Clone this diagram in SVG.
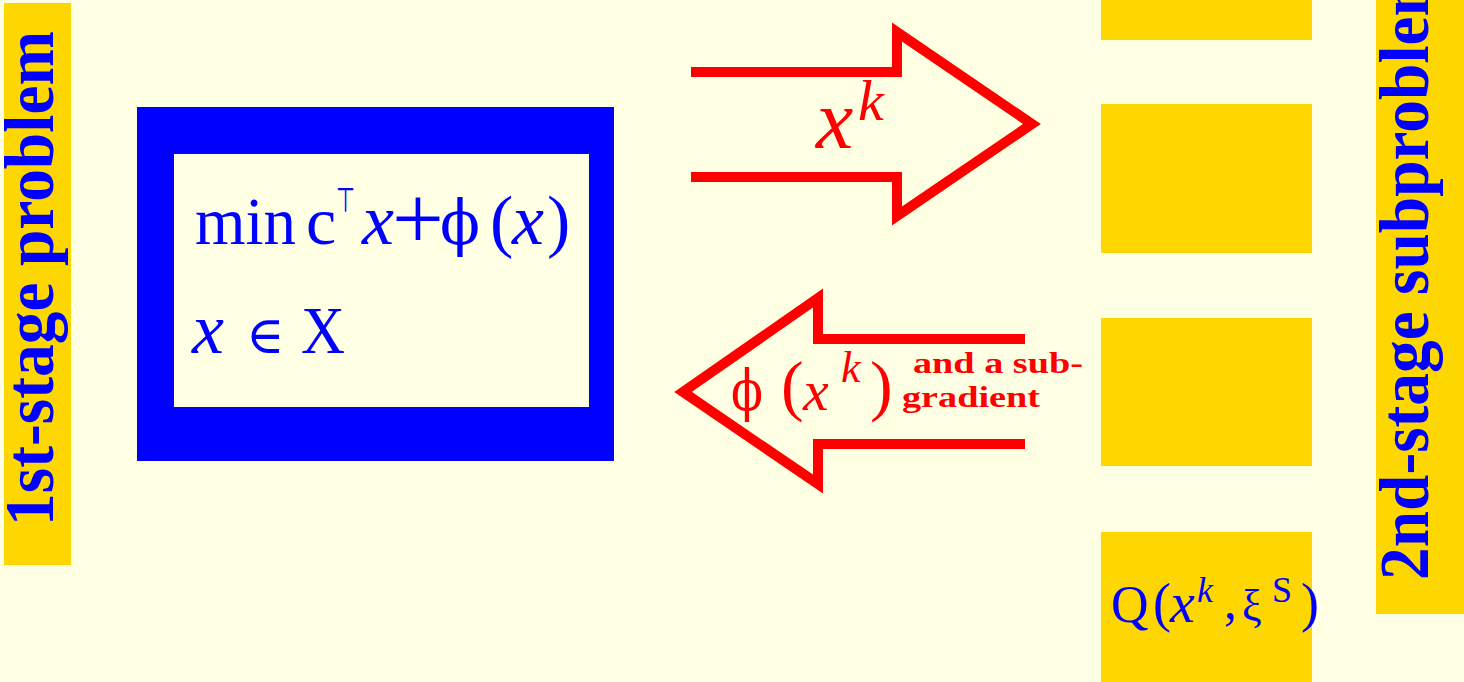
<svg xmlns="http://www.w3.org/2000/svg" width="1464" height="682" viewBox="0 0 1464 682">
<style>
.lbl{font-family:"Liberation Serif","Times New Roman",serif;font-weight:bold;fill:#0000FF}
.m{font-family:"Liberation Serif","DejaVu Serif",serif;fill:#0000FF}
.mi{font-family:"Liberation Serif","DejaVu Serif",serif;font-style:italic;fill:#0000FF}
.phi{font-family:"DejaVu Serif","Liberation Serif",serif;fill:#0000FF}
.r{fill:#FF0000}
.gold{fill:#FFD700}
.arrow{fill:none;stroke:#FF0000;stroke-width:10;stroke-linejoin:miter;stroke-miterlimit:10}
.note{font-family:"Liberation Serif","Times New Roman",serif;font-weight:bold;fill:#FF0000}
</style>
<rect x="0" y="0" width="1464" height="682" fill="#FFFFE4"/>

<g id="first-stage-label">
<rect class="gold" x="4" y="3" width="67" height="562"/>
<text class="lbl" font-size="70" transform="translate(53,526) rotate(-90)" textLength="495" lengthAdjust="spacingAndGlyphs">1st-stage problem</text>
</g>

<g id="first-stage-problem">
<rect x="137" y="107" width="477" height="354" fill="#0000FF"/>
<rect x="174" y="154" width="415" height="253" fill="#FFFFE4"/>
<text class="m" font-size="68" x="195" y="244" textLength="101" lengthAdjust="spacingAndGlyphs">min</text>
<text class="m" font-size="68" x="306" y="244">c</text>
<text font-family="DejaVu Sans, sans-serif" font-size="34" fill="#0000FF" x="336" y="212" textLength="19" lengthAdjust="spacingAndGlyphs">⊤</text>
<text class="mi" font-size="72" x="362" y="244">x</text>
<text class="m" font-size="92" x="392" y="249">+</text>
<text class="phi" font-size="62" x="440" y="244" textLength="40" lengthAdjust="spacingAndGlyphs">ϕ</text>
<text class="m" font-size="70" x="490" y="244">(</text>
<text class="mi" font-size="72" x="512" y="244">x</text>
<text class="m" font-size="70" x="547" y="244">)</text>
<text class="mi" font-size="72" x="192" y="353">x</text>
<text font-family="DejaVu Serif, serif" font-size="52" fill="#0000FF" x="246" y="353">∈</text>
<text class="m" font-size="68" x="301" y="353" textLength="44" lengthAdjust="spacingAndGlyphs">X</text>
</g>

<g id="second-stage-scenarios">
<rect class="gold" x="1101" y="0" width="211" height="40"/>
<rect class="gold" x="1101" y="104" width="211" height="149"/>
<rect class="gold" x="1101" y="318" width="211" height="148"/>
<rect class="gold" x="1101" y="532" width="211" height="150"/>
<text class="m" font-size="52" x="1111" y="622">Q</text>
<text class="m" font-size="54" x="1153" y="621">(</text>
<text class="mi" font-size="56" x="1170" y="622">x</text>
<text class="mi" font-size="36" x="1197" y="602">k</text>
<text class="m" font-size="52" x="1224" y="618">,</text>
<text class="m" font-size="44" x="1242" y="620">ξ</text>
<text class="m" font-size="36" x="1272" y="602">S</text>
<text class="m" font-size="54" x="1301" y="621">)</text>
</g>

<g id="second-stage-label">
<rect class="gold" x="1376" y="0" width="88" height="614"/>
<text class="lbl" font-size="70" transform="translate(1428,580) rotate(-90)" textLength="618" lengthAdjust="spacingAndGlyphs">2nd-stage subproblem</text>
</g>

<g id="connectors">
<path class="arrow" d="M691,72 L897,72 L897,32 L1032,124 L897,216 L897,177 L691,177"/>
<text class="mi r" font-size="84" x="816" y="148">x</text>
<text class="mi r" font-size="58" x="858" y="120">k</text>

<path class="arrow" d="M1025,339 L818,339 L818,298 L683,392 L818,484 L818,444 L1025,444"/>
<text class="phi r" font-size="56" x="731" y="410" textLength="32" lengthAdjust="spacingAndGlyphs">ϕ</text>
<text class="m r" font-size="68" x="781" y="408">(</text>
<text class="mi r" font-size="58" x="803" y="410">x</text>
<text class="mi r" font-size="44" x="841" y="382">k</text>
<text class="m r" font-size="68" x="870" y="408">)</text>
<text class="note" font-size="29" x="913" y="373" textLength="170" lengthAdjust="spacingAndGlyphs">and a sub-</text>
<text class="note" font-size="29" x="902" y="407" textLength="138" lengthAdjust="spacingAndGlyphs">gradient</text>
</g>
</svg>
